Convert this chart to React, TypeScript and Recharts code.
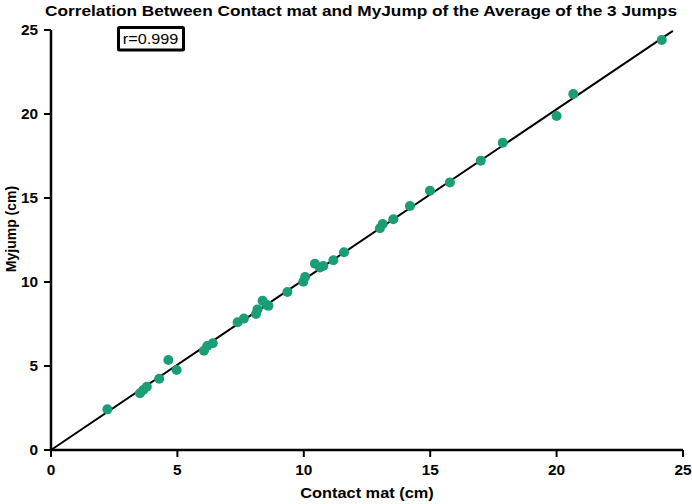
import React from 'react';
import { ScatterChart, Scatter, XAxis, YAxis, ReferenceLine } from 'recharts';

const contactMat = [2.23, 3.52, 3.65, 3.79, 4.28, 4.64, 4.97, 6.05, 6.18, 6.40, 7.38, 7.63, 8.11, 8.17, 8.37, 8.53, 8.60, 9.35, 9.98, 10.05, 10.44, 10.64, 10.77, 11.17, 11.59, 13.01, 13.12, 13.54, 14.20, 14.99, 15.78, 17.00, 17.87, 20.00, 20.66, 24.16];
const myJump = [2.42, 3.38, 3.57, 3.77, 4.24, 5.36, 4.76, 5.91, 6.19, 6.35, 7.60, 7.82, 8.10, 8.37, 8.88, 8.65, 8.58, 9.41, 10.02, 10.30, 11.09, 10.87, 10.95, 11.29, 11.77, 13.20, 13.45, 13.73, 14.52, 15.43, 15.93, 17.22, 18.29, 19.88, 21.19, 24.40];
const fitStart = { x: 0, y: 0 };
const fitEnd = { x: 24.6, y: 24.95 };
const ticks = [0, 5, 10, 15, 20, 25];
const title = 'Correlation Between Contact mat and MyJump of the Average of the 3 Jumps';
const xLabel = 'Contact mat (cm)';
const yLabel = 'Myjump (cm)';
const rLabel = 'r=0.999';

const points = contactMat.map((x, i) => ({ x, y: myJump[i] }));

const FONT = '"Liberation Sans", Arial, sans-serif';
const GREEN = '#1b9e77';

const Dot = (props: any) => <circle cx={props.cx} cy={props.cy} r={5} fill={GREEN} />;

const XTick = (props: any) => {
  const { x, y, payload } = props;
  return (
    <text transform={`translate(${x},${y}) scale(1.1,1)`} textAnchor="middle" dy="0.71em" fontFamily={FONT} fontWeight="bold" fontSize={14} fill="#000">
      {payload.value}
    </text>
  );
};

const YTick = (props: any) => {
  const { x, y, payload } = props;
  return (
    <text transform={`translate(${x},${y}) scale(1.1,1)`} textAnchor="end" dy="0.355em" fontFamily={FONT} fontWeight="bold" fontSize={14} fill="#000">
      {payload.value}
    </text>
  );
};

const SText = ({ x, y, sx, children, ...rest }: any) => (
  <text transform={`translate(${x},${y}) scale(${sx},1)`} fontFamily={FONT} fill="#000" {...rest}>
    {children}
  </text>
);

export default function App() {
  return (
    <div style={{ position: 'absolute', left: 0, top: 0, width: 692, height: 504, background: '#fff' }}>
      <ScatterChart width={692} height={504} margin={{ top: 30, right: 9, bottom: 0, left: 0 }} style={{ fontFamily: FONT }}>
        <XAxis
          type="number"
          dataKey="x"
          domain={[0, 25]}
          ticks={ticks}
          height={54}
          tickSize={7}
          tickMargin={8}
          axisLine={{ stroke: '#000', strokeWidth: 2.5 }}
          tickLine={{ stroke: '#000', strokeWidth: 2 }}
          tick={<XTick />}
          allowDataOverflow
        />
        <YAxis
          type="number"
          dataKey="y"
          domain={[0, 25]}
          ticks={ticks}
          width={51}
          tickSize={7}
          tickMargin={6}
          axisLine={{ stroke: '#000', strokeWidth: 2.5 }}
          tickLine={{ stroke: '#000', strokeWidth: 2 }}
          tick={<YTick />}
          allowDataOverflow
        />
        <ReferenceLine segment={[fitStart, fitEnd]} stroke="#000" strokeWidth={2} ifOverflow="visible" />
        <Scatter data={points} shape={<Dot />} isAnimationActive={false} />
      </ScatterChart>
      <svg width={692} height={504} style={{ position: 'absolute', left: 0, top: 0, pointerEvents: 'none' }}>
        <SText x={361} y={16} sx={1.15} textAnchor="middle" fontWeight="bold" fontSize={15}>{title}</SText>
        <rect x={118.5} y={27.5} width={65} height={22.5} fill="#fff" stroke="#000" strokeWidth={3} rx={1} />
        <SText x={150.5} y={44} sx={1.08} textAnchor="middle" fontSize={15}>{rLabel}</SText>
        <SText x={367} y={498} sx={1.17} textAnchor="middle" fontWeight="bold" fontSize={14}>{xLabel}</SText>
        <text x={16} y={229} textAnchor="middle" fontFamily={FONT} fontWeight="bold" fontSize={14} fill="#000" transform="rotate(-90 16 229)">{yLabel}</text>
      </svg>
    </div>
  );
}
